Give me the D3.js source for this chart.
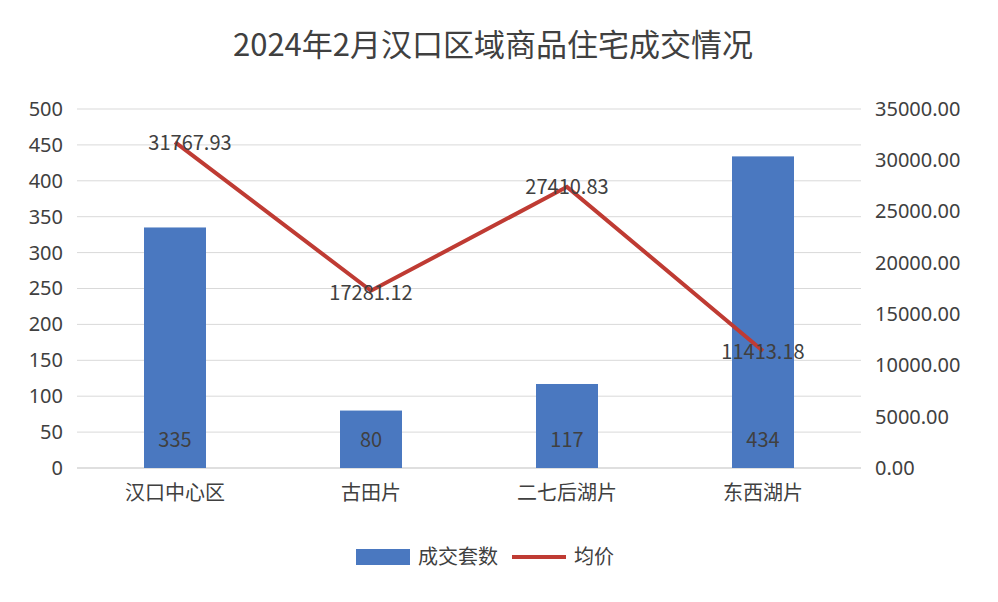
<!DOCTYPE html>
<html><head><meta charset="utf-8">
<script src="https://cdn.jsdelivr.net/npm/d3@7"></script>
<style>body{margin:0;background:#fff;font-family:"Noto Sans CJK SC","Noto Sans",sans-serif}</style>
</head><body><div id="viz"></div>
<script>
const categories = ['汉口中心区', '古田片', '二七后湖片', '东西湖片'];
const units = [335, 80, 117, 434];
const prices = [31767.93, 17281.12, 27410.83, 11413.18];
const leftTicks = [0, 50, 100, 150, 200, 250, 300, 350, 400, 450, 500];
const rightTicks = [0, 5000, 10000, 15000, 20000, 25000, 30000, 35000];

const width = 998, height = 602;
const margin = { top: 109, right: 137, bottom: 134, left: 77 };
const barColor = '#4a78c0', lineColor = '#bf3b33', textColor = '#404040';

const svg = d3.select('#viz').append('svg').attr('width', width).attr('height', height);

const x = d3.scaleBand().domain(categories).range([margin.left, width - margin.right]);
const yL = d3.scaleLinear().domain([0, 500]).range([height - margin.bottom, margin.top]);
const yR = d3.scaleLinear().domain([0, 35000]).range([height - margin.bottom, margin.top]);

svg.append('text').attr('x', width / 2 - 6).attr('y', 56).attr('text-anchor', 'middle')
  .attr('font-size', 31).attr('fill', textColor).text('2024年2月汉口区域商品住宅成交情况');

// gridlines
svg.append('g').selectAll('line').data(leftTicks).join('line')
  .attr('x1', margin.left).attr('x2', width - margin.right)
  .attr('y1', d => yL(d)).attr('y2', d => yL(d))
  .attr('stroke', d => d === 0 ? '#bfbfbf' : '#d9d9d9').attr('stroke-width', 1);

const yAxisL = d3.axisLeft(yL).tickValues(leftTicks).tickSize(0).tickPadding(14);
svg.append('g').attr('transform', `translate(${margin.left},0)`).call(yAxisL)
  .call(g => g.select('.domain').remove())
  .selectAll('text').attr('font-size', 20).attr('fill', textColor).attr('font-family', 'Noto Sans');

const yAxisR = d3.axisRight(yR).tickValues(rightTicks).tickFormat(d3.format('.2f')).tickSize(0).tickPadding(14);
svg.append('g').attr('transform', `translate(${width - margin.right},0)`).call(yAxisR)
  .call(g => g.select('.domain').remove())
  .selectAll('text').attr('font-size', 20).attr('fill', textColor).attr('font-family', 'Noto Sans');

const xAxis = d3.axisBottom(x).tickSize(0).tickPadding(18);
svg.append('g').attr('transform', `translate(0,${height - margin.bottom})`).call(xAxis)
  .call(g => g.select('.domain').remove())
  .selectAll('text').attr('font-size', 20).attr('fill', textColor).attr('font-family', 'Noto Sans CJK SC');

const bw = 62;
svg.selectAll('rect.bar').data(units).join('rect').attr('class', 'bar')
  .attr('x', (d, i) => x(categories[i]) + x.bandwidth() / 2 - bw / 2)
  .attr('y', d => yL(d)).attr('width', bw).attr('height', d => yL(0) - yL(d))
  .attr('fill', barColor);

svg.selectAll('text.bl').data(units).join('text').attr('class', 'bl')
  .attr('x', (d, i) => x(categories[i]) + x.bandwidth() / 2).attr('y', yL(0) - 21)
  .attr('text-anchor', 'middle').attr('font-size', 20).attr('fill', textColor).text(d => d);

const line = d3.line().x((d, i) => x(categories[i]) + x.bandwidth() / 2).y(d => yR(d));
svg.append('path').attr('d', line(prices)).attr('fill', 'none')
  .attr('stroke', lineColor).attr('stroke-width', 4);

const labelOff = [[15, 8], [0, 9], [0, 7], [0, 8]];
svg.selectAll('text.pl').data(prices).join('text').attr('class', 'pl')
  .attr('x', (d, i) => x(categories[i]) + x.bandwidth() / 2 + labelOff[i][0])
  .attr('y', (d, i) => yR(d) + labelOff[i][1])
  .attr('text-anchor', 'middle').attr('font-size', 20).attr('fill', textColor)
  .text(d => d3.format('.2f')(d));

// legend
const lg = svg.append('g');
lg.append('rect').attr('x', 356).attr('y', 549).attr('width', 54).attr('height', 16).attr('fill', barColor);
lg.append('text').attr('x', 418).attr('y', 564).attr('font-size', 20).attr('fill', textColor).text('成交套数');
lg.append('line').attr('x1', 512).attr('x2', 566).attr('y1', 557).attr('y2', 557)
  .attr('stroke', lineColor).attr('stroke-width', 4);
lg.append('text').attr('x', 574).attr('y', 564).attr('font-size', 20).attr('fill', textColor).text('均价');
</script></body></html>
